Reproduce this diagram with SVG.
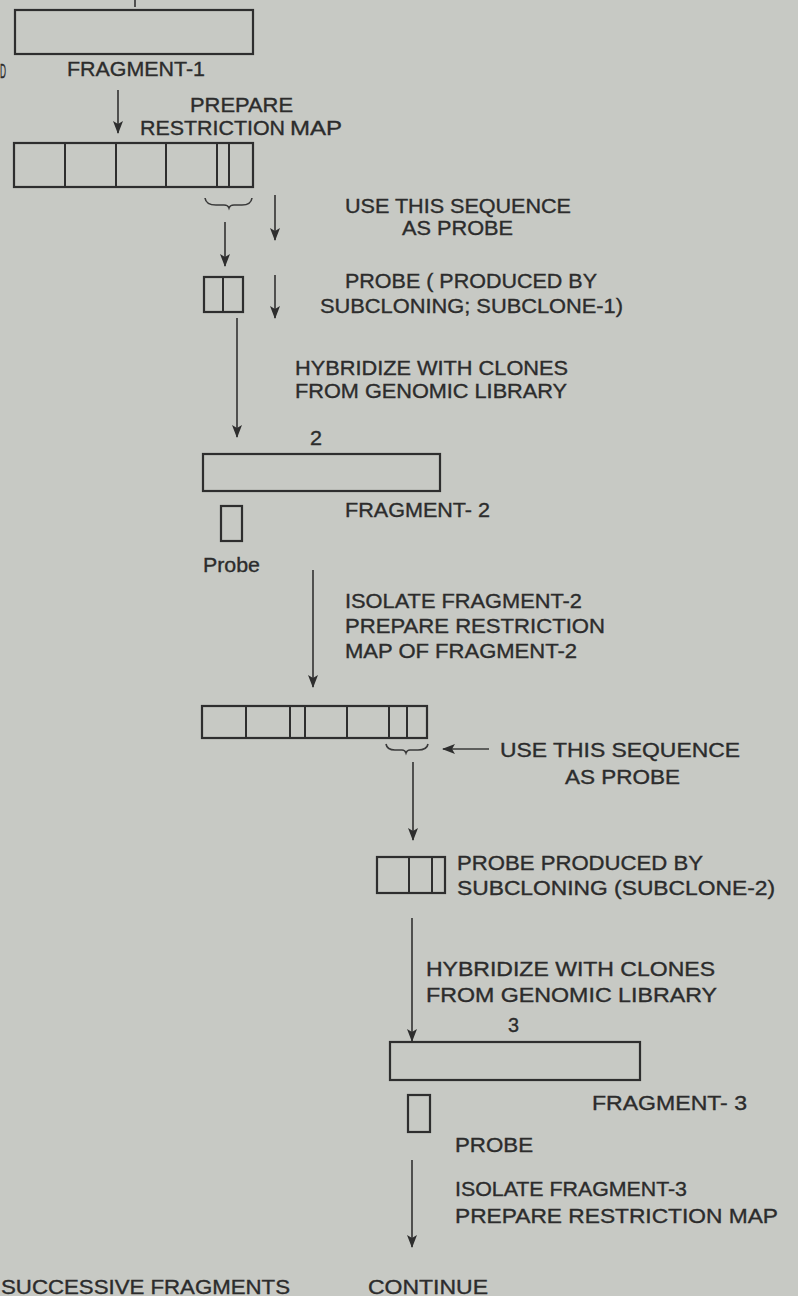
<svg xmlns="http://www.w3.org/2000/svg" width="798" height="1296" viewBox="0 0 798 1296">
<defs>
<marker id="ah" markerWidth="13" markerHeight="10" refX="12" refY="5" orient="auto" markerUnits="userSpaceOnUse" viewBox="0 0 13 10">
<path d="M0,0 L13,5 L0,10 L3,5 Z" fill="#2e2e2e"/>
</marker>
</defs>
<style>
text{font-family:"Liberation Sans","Arial",sans-serif;font-size:20px;fill:#2c2c2c;stroke:#2c2c2c;stroke-width:0.35;}
.box{fill:none;stroke:#2e2e2e;stroke-width:2.2;}
.div{stroke:#2e2e2e;stroke-width:2;}
.con{stroke:#3a3a3a;stroke-width:1.7;fill:none;}
.br{stroke:#3a3a3a;stroke-width:1.6;fill:none;}
</style>
<rect x="0" y="0" width="798" height="1296" fill="#c7c9c4"/>

<g id="connectors">
<line class="con" x1="135" y1="0" x2="135" y2="7"/>
<line class="con" x1="118" y1="90" x2="118" y2="133" marker-end="url(#ah)"/>
<line class="con" x1="225" y1="222" x2="225" y2="266" marker-end="url(#ah)"/>
<line class="con" x1="275" y1="195" x2="275" y2="240" marker-end="url(#ah)"/>
<line class="con" x1="275" y1="275" x2="275" y2="318" marker-end="url(#ah)"/>
<line class="con" x1="237" y1="318" x2="237" y2="437" marker-end="url(#ah)"/>
<line class="con" x1="313" y1="570" x2="313" y2="687" marker-end="url(#ah)"/>
<line class="con" x1="489" y1="749" x2="443" y2="749" marker-end="url(#ah)"/>
<line class="con" x1="413" y1="762" x2="413" y2="840" marker-end="url(#ah)"/>
<line class="con" x1="412" y1="918" x2="412" y2="1041" marker-end="url(#ah)"/>
<line class="con" x1="412" y1="1160" x2="412" y2="1247" marker-end="url(#ah)"/>
</g>

<g id="fragment1">
<rect class="box" x="15" y="10" width="238" height="44"/>
<text x="67" y="76" textLength="138" lengthAdjust="spacingAndGlyphs">FRAGMENT-1</text>
<text x="0" y="78" font-size="16" textLength="6" lengthAdjust="spacingAndGlyphs">D</text>
</g>

<g id="step-prepare-map-1">
<text x="190" y="112" textLength="103" lengthAdjust="spacingAndGlyphs">PREPARE</text>
<text x="140" y="135" textLength="145" lengthAdjust="spacingAndGlyphs">RESTRICTION</text>
<text x="290" y="135" font-size="16" textLength="52" lengthAdjust="spacingAndGlyphs">MAP</text>
</g>

<g id="restriction-map-1">
<rect class="box" x="14" y="143" width="239" height="44"/>
<line class="div" x1="65" y1="143" x2="65" y2="187"/>
<line class="div" x1="116" y1="143" x2="116" y2="187"/>
<line class="div" x1="166" y1="143" x2="166" y2="187"/>
<line class="div" x1="217" y1="143" x2="217" y2="187"/>
<line class="div" x1="229" y1="143" x2="229" y2="187"/>
<path class="br" d="M205,198 Q206,205 216,205 L224,205 Q228,205 229,208 Q230,205 234,205 L242,205 Q251,205 252,198"/>
</g>

<g id="step-use-probe-1">
<text x="345" y="213" textLength="226" lengthAdjust="spacingAndGlyphs">USE THIS SEQUENCE</text>
<text x="402" y="235" textLength="111" lengthAdjust="spacingAndGlyphs">AS PROBE</text>
</g>

<g id="probe1">
<rect class="box" x="204" y="277" width="39" height="35"/>
<line class="div" x1="223" y1="277" x2="223" y2="312"/>
<text x="345" y="288" textLength="252" lengthAdjust="spacingAndGlyphs">PROBE ( PRODUCED BY</text>
<text x="320" y="313" textLength="303" lengthAdjust="spacingAndGlyphs">SUBCLONING; SUBCLONE-1)</text>
</g>

<g id="step-hybridize-1">
<text x="295" y="375" textLength="273" lengthAdjust="spacingAndGlyphs">HYBRIDIZE WITH CLONES</text>
<text x="295" y="398" textLength="272" lengthAdjust="spacingAndGlyphs">FROM GENOMIC LIBRARY</text>
</g>

<g id="fragment2">
<text x="310" y="445" textLength="12" lengthAdjust="spacingAndGlyphs">2</text>
<rect class="box" x="203" y="454" width="237" height="37"/>
<text x="345" y="517" textLength="145" lengthAdjust="spacingAndGlyphs">FRAGMENT- 2</text>
<rect class="box" x="221" y="506" width="21" height="35"/>
<text x="203" y="572" textLength="57" lengthAdjust="spacingAndGlyphs">Probe</text>
</g>

<g id="step-isolate-2">
<text x="345" y="608" textLength="237" lengthAdjust="spacingAndGlyphs">ISOLATE FRAGMENT-2</text>
<text x="345" y="633" textLength="260" lengthAdjust="spacingAndGlyphs">PREPARE RESTRICTION</text>
<text x="345" y="658" textLength="232" lengthAdjust="spacingAndGlyphs">MAP OF FRAGMENT-2</text>
</g>

<g id="restriction-map-2">
<rect class="box" x="202" y="706" width="225" height="32"/>
<line class="div" x1="246" y1="706" x2="246" y2="738"/>
<line class="div" x1="290" y1="706" x2="290" y2="738"/>
<line class="div" x1="305" y1="706" x2="305" y2="738"/>
<line class="div" x1="347" y1="706" x2="347" y2="738"/>
<line class="div" x1="389" y1="706" x2="389" y2="738"/>
<line class="div" x1="407" y1="706" x2="407" y2="738"/>
<path class="br" d="M386,744 Q387,750 395,750 L402,750 Q405,750 406,753 Q407,750 410,750 L418,750 Q427,750 428,744"/>
</g>

<g id="step-use-probe-2">
<text x="500" y="757" textLength="240" lengthAdjust="spacingAndGlyphs">USE THIS SEQUENCE</text>
<text x="565" y="784" textLength="115" lengthAdjust="spacingAndGlyphs">AS PROBE</text>
</g>

<g id="probe2">
<rect class="box" x="377" y="857" width="68" height="36"/>
<line class="div" x1="409" y1="857" x2="409" y2="893"/>
<line class="div" x1="432" y1="857" x2="432" y2="893"/>
<text x="457" y="870" textLength="246" lengthAdjust="spacingAndGlyphs">PROBE PRODUCED BY</text>
<text x="457" y="895" textLength="318" lengthAdjust="spacingAndGlyphs">SUBCLONING (SUBCLONE-2)</text>
</g>

<g id="step-hybridize-2">
<text x="426" y="976" textLength="289" lengthAdjust="spacingAndGlyphs">HYBRIDIZE WITH CLONES</text>
<text x="426" y="1002" textLength="291" lengthAdjust="spacingAndGlyphs">FROM GENOMIC LIBRARY</text>
</g>

<g id="fragment3">
<text x="508" y="1032" textLength="11" lengthAdjust="spacingAndGlyphs">3</text>
<rect class="box" x="390" y="1042" width="250" height="38"/>
<text x="592" y="1110" textLength="155" lengthAdjust="spacingAndGlyphs">FRAGMENT- 3</text>
<rect class="box" x="408" y="1095" width="22" height="37"/>
<text x="455" y="1152" textLength="78" lengthAdjust="spacingAndGlyphs">PROBE</text>
</g>

<g id="step-isolate-3">
<text x="455" y="1196" textLength="232" lengthAdjust="spacingAndGlyphs">ISOLATE FRAGMENT-3</text>
<text x="455" y="1223" textLength="323" lengthAdjust="spacingAndGlyphs">PREPARE RESTRICTION MAP</text>
</g>

<g id="bottom-labels">
<text x="1" y="1294" textLength="289" lengthAdjust="spacingAndGlyphs">SUCCESSIVE FRAGMENTS</text>
<text x="368" y="1294" textLength="120" lengthAdjust="spacingAndGlyphs">CONTINUE</text>
</g>
</svg>
